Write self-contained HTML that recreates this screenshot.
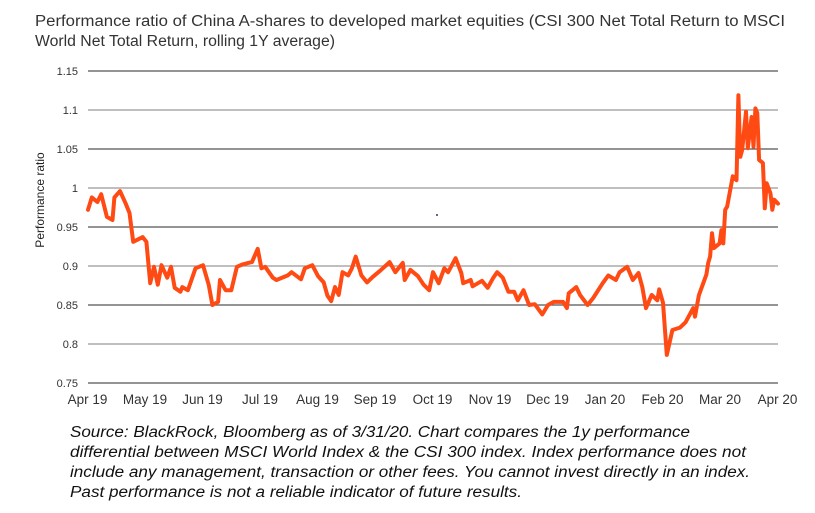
<!DOCTYPE html>
<html><head><meta charset="utf-8"><style>
html,body{margin:0;padding:0;background:#fff;}
svg{display:block;font-family:"Liberation Sans",sans-serif;}
</style></head><body>
<svg id="chart" width="815" height="513" viewBox="0 0 815 513" xmlns="http://www.w3.org/2000/svg">
<g fill="#333" font-size="15.5">
<text x="35" y="26" textLength="750" lengthAdjust="spacingAndGlyphs">Performance ratio of China A-shares to developed market equities (CSI 300 Net Total Return to MSCI</text>
<text x="35" y="46" textLength="300" lengthAdjust="spacingAndGlyphs">World Net Total Return, rolling 1Y average)</text>
</g>
<g id="grid"></g>
<g id="yticks" font-size="11" fill="#333" text-anchor="end"></g>
<g id="xticks" font-size="13.5" fill="#333" text-anchor="middle"></g>
<text transform="translate(44,200) rotate(-90)" text-anchor="middle" font-size="12" fill="#222">Performance ratio</text>
<path id="line" fill="none" stroke="#ff4a14" stroke-width="4" stroke-linejoin="round" stroke-linecap="round"/>
<circle cx="437" cy="215" r="1" fill="#336"/>
<g fill="#111" font-size="15.5" font-style="italic">
<text x="70" y="437" textLength="620" lengthAdjust="spacingAndGlyphs">Source: BlackRock, Bloomberg as of 3/31/20. Chart compares the 1y performance</text>
<text x="70" y="457" textLength="676" lengthAdjust="spacingAndGlyphs">differential between MSCI World Index &amp; the CSI 300 index. Index performance does not</text>
<text x="70" y="477" textLength="680" lengthAdjust="spacingAndGlyphs">include any management, transaction or other fees.  You cannot invest directly in an index.</text>
<text x="70" y="497" textLength="452" lengthAdjust="spacingAndGlyphs">Past performance is not a reliable indicator of future results.</text>
</g>
</svg>
<script>
const yTicks=[0.75,0.8,0.85,0.9,0.95,1,1.05,1.1,1.15];
const yTickLabels=["0.75","0.8","0.85","0.9","0.95","1","1.05","1.1","1.15"];
const xTickLabels=["Apr 19","May 19","Jun 19","Jul 19","Aug 19","Sep 19","Oct 19","Nov 19","Dec 19","Jan 20","Feb 20","Mar 20","Apr 20"];
const dayOffsets=[0,2,5,7,10,13,14,17,20,22,24,29,31,33,35,37,39,42,44,46,49,50,53,57,61,64,66,69,70,73,76,79,82,85,87,90,92,94,98,100,104,106,108,113,115,119,122,125,127,129,131,133,135,138,140,142,145,148,151,155,160,163,167,168,171,175,178,181,183,186,189,191,195,198,199,203,204,209,212,215,217,220,223,226,228,231,234,237,241,244,247,252,254,255,259,261,265,268,273,276,280,282,286,289,292,294,296,299,302,303,305,307,310,314,317,321,322,324,325,328,329,330,331,332,335,336,337,338,339,341,342,344,345,346,347,349,350,352,353,354,355,356,358,359,360,362,363,364,366];
const ratioValues=[0.972,0.988,0.982,0.992,0.963,0.959,0.988,0.996,0.980,0.968,0.931,0.937,0.931,0.878,0.899,0.876,0.901,0.885,0.899,0.872,0.867,0.873,0.869,0.897,0.901,0.876,0.850,0.854,0.882,0.869,0.869,0.899,0.902,0.904,0.905,0.922,0.897,0.899,0.885,0.882,0.886,0.888,0.892,0.883,0.897,0.901,0.887,0.879,0.862,0.855,0.873,0.863,0.892,0.888,0.897,0.912,0.888,0.879,0.886,0.894,0.905,0.892,0.904,0.882,0.895,0.887,0.876,0.869,0.892,0.878,0.897,0.892,0.910,0.891,0.878,0.882,0.874,0.881,0.872,0.885,0.892,0.885,0.867,0.867,0.856,0.869,0.850,0.851,0.838,0.850,0.854,0.854,0.846,0.865,0.873,0.863,0.850,0.859,0.878,0.888,0.882,0.892,0.899,0.882,0.891,0.873,0.846,0.863,0.856,0.870,0.853,0.786,0.818,0.821,0.828,0.846,0.835,0.862,0.869,0.889,0.904,0.912,0.942,0.923,0.929,0.946,0.929,0.972,0.976,1.002,1.015,1.010,1.119,1.040,1.049,1.098,1.051,1.091,1.053,1.102,1.096,1.036,1.032,0.974,1.006,0.993,0.972,0.985,0.980];
const X0=88,X1=778,Y0=383,Y1=71,totalDays=366;
const xDay=d=>X0+(d/totalDays)*(X1-X0);
const xMonth=i=>X0+i*(X1-X0)/12;
const yVal=v=>Y0-(v-0.75)/(1.15-0.75)*(Y0-Y1);
const NS="http://www.w3.org/2000/svg";
const grid=document.getElementById('grid'),yt=document.getElementById('yticks'),xt=document.getElementById('xticks');
yTicks.forEach((v,i)=>{
  const l=document.createElementNS(NS,'line');
  
  
  l.setAttribute('x1',X0);l.setAttribute('x2',X1);
  l.setAttribute('y1',yVal(v));l.setAttribute('y2',yVal(v));
  l.setAttribute('stroke',i%2?'#999':'#555');l.setAttribute('stroke-width','1.2');
  grid.appendChild(l);
  const t=document.createElementNS(NS,'text');
  
  
  t.setAttribute('x',78);t.setAttribute('y',yVal(v)+4);
  t.textContent=yTickLabels[i];yt.appendChild(t);
});
xTickLabels.forEach((s,i)=>{
  const t=document.createElementNS(NS,'text');
  
  
  t.setAttribute('x',xMonth(i)-0.5);t.setAttribute('y',404);
  t.textContent=s;xt.appendChild(t);
});
let d='';
ratioValues.forEach((v,i)=>{d+=(i?'L':'M')+xDay(dayOffsets[i]).toFixed(1)+' '+yVal(v).toFixed(1);});
document.getElementById('line').setAttribute('d',d);
</script>
</body></html>
